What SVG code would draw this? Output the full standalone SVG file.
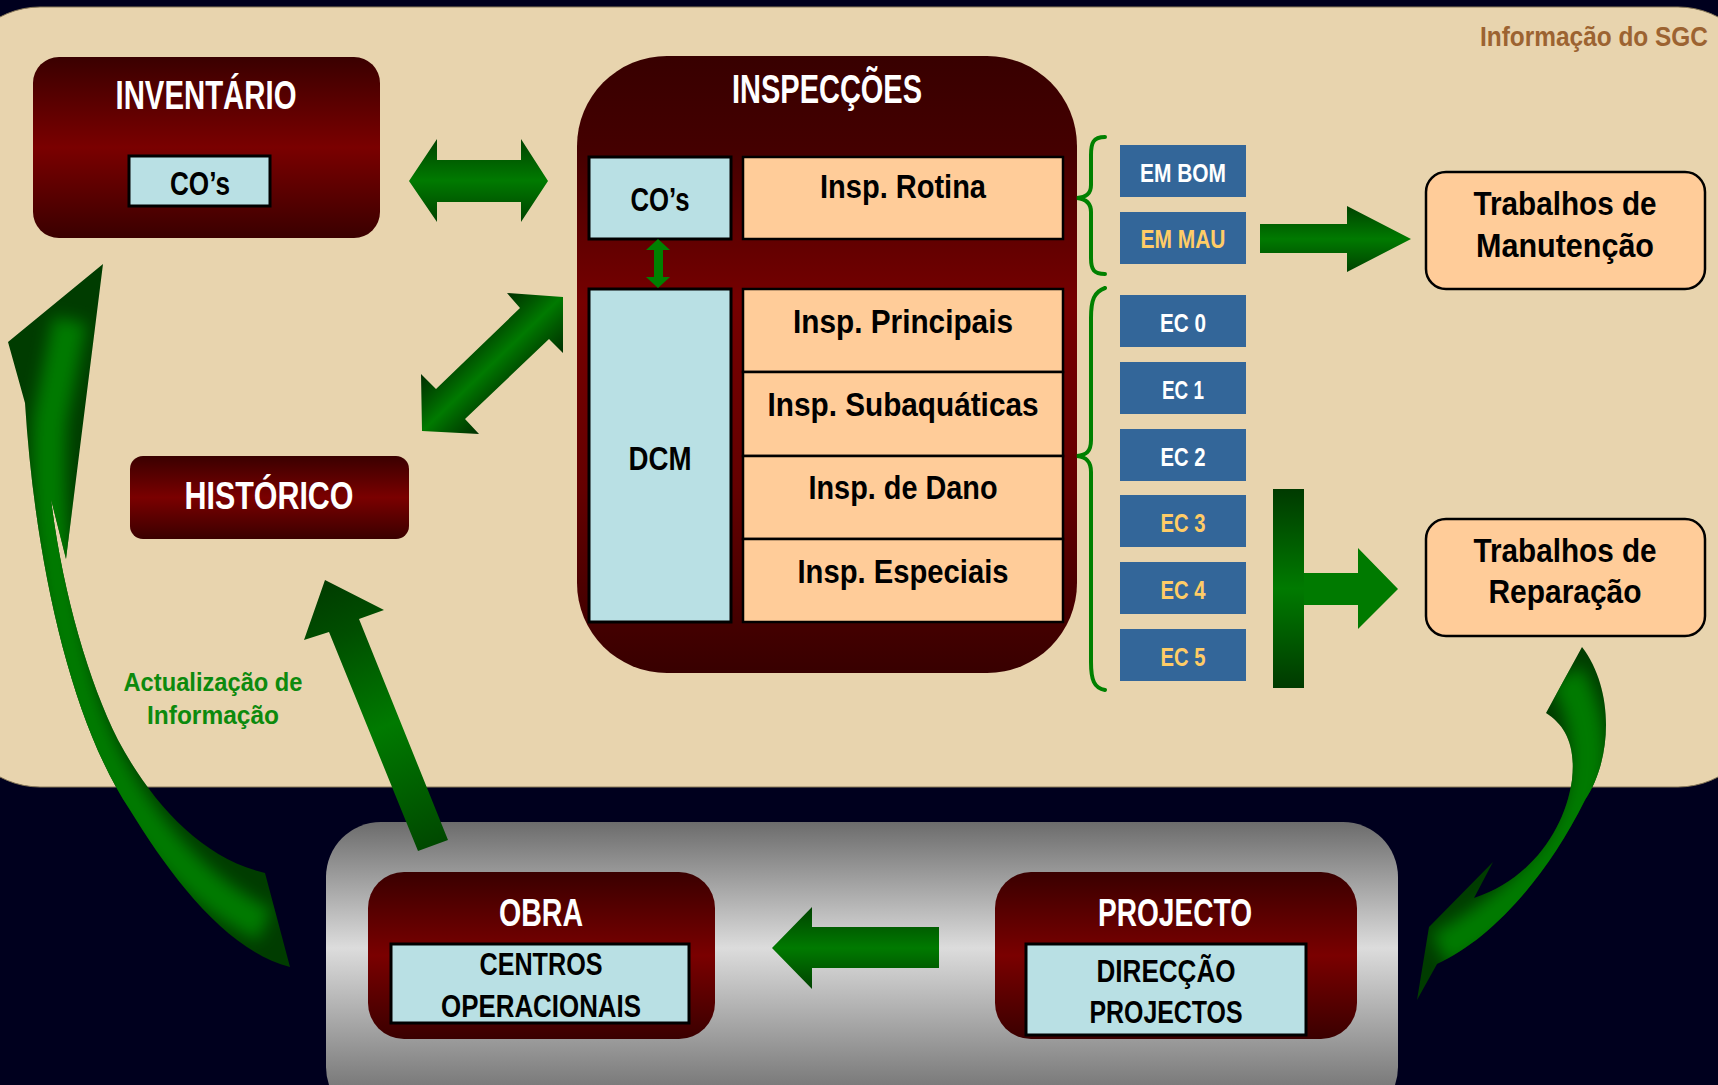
<svg xmlns="http://www.w3.org/2000/svg" width="1718" height="1085" viewBox="0 0 1718 1085">
<style>
.t{font-family:"Liberation Sans Narrow","Liberation Sans",Arial,sans-serif;font-weight:bold;text-anchor:middle}
.w{fill:#ffffff}
.k{fill:#000000}
.y{fill:#ffcc66}
.lb{fill:#b9e0e4;stroke:#000;stroke-width:3}
.pc{fill:#ffcc99;stroke:#000;stroke-width:2.5}
.bb{fill:#336699}
.br{fill:none;stroke:#008000;stroke-width:4;stroke-linecap:round}
</style>
<defs>
<linearGradient id="gRed" x1="0" y1="0" x2="0" y2="1">
<stop offset="0" stop-color="#3a0000"/><stop offset="0.5" stop-color="#7a0000"/><stop offset="1" stop-color="#3a0000"/>
</linearGradient>
<linearGradient id="gRedBig" x1="0" y1="0" x2="0" y2="1">
<stop offset="0" stop-color="#380000"/><stop offset="0.15" stop-color="#440000"/><stop offset="0.4" stop-color="#760000"/><stop offset="0.7" stop-color="#640000"/><stop offset="1" stop-color="#380000"/>
</linearGradient>
<linearGradient id="gGray" x1="0" y1="0" x2="0" y2="1">
<stop offset="0" stop-color="#6c6c6c"/><stop offset="0.42" stop-color="#dcdcdc"/><stop offset="0.88" stop-color="#7a7a7a"/><stop offset="1" stop-color="#6c6c6c"/>
</linearGradient>
<linearGradient id="gGreenV" x1="0" y1="0" x2="0" y2="1">
<stop offset="0" stop-color="#004200"/><stop offset="0.5" stop-color="#007a00"/><stop offset="1" stop-color="#004200"/>
</linearGradient>
<linearGradient id="gTBar" x1="0" y1="0" x2="0" y2="1">
<stop offset="0" stop-color="#003a00"/><stop offset="0.5" stop-color="#007a00"/><stop offset="1" stop-color="#003a00"/>
</linearGradient>
<linearGradient id="gDiag" gradientUnits="userSpaceOnUse" x1="464" y1="335" x2="520" y2="393">
<stop offset="0" stop-color="#003000"/><stop offset="0.3" stop-color="#005a00"/><stop offset="0.5" stop-color="#007a00"/><stop offset="0.7" stop-color="#005a00"/><stop offset="1" stop-color="#003000"/>
</linearGradient>
<linearGradient id="gUp" gradientUnits="userSpaceOnUse" x1="325" y1="580" x2="433" y2="846">
<stop offset="0" stop-color="#003c00"/><stop offset="0.2" stop-color="#004e00"/><stop offset="0.55" stop-color="#007a00"/><stop offset="1" stop-color="#004800"/>
</linearGradient>
<filter id="blur" x="-50%" y="-50%" width="200%" height="200%"><feGaussianBlur stdDeviation="8"/></filter>
<clipPath id="cpL"><path d="M290,967 L265,873 C200,858 150,800 118,740 C88,680 62,590 51,499 L66,559 L103,264 L8,342 L25,403 C35,560 70,720 130,810 C170,875 225,950 290,967 Z"/></clipPath>
<clipPath id="cpR"><path d="M1582,647 C1615,690 1612,760 1585,800 C1545,880 1490,940 1437,964 L1417,1000 L1429,927 L1493,862 L1474,898 C1530,880 1565,830 1572,780 C1576,745 1565,725 1546,713 Z"/></clipPath>
</defs>

<rect x="0" y="0" width="1718" height="1085" fill="#00001e"/>

<g id="sgc-panel">
<rect x="-45" y="7" width="1808" height="780" rx="85" fill="#e8d4ae" stroke="#8a7a5a" stroke-width="1"/>
<text class="t" x="1594" y="46" font-size="27" fill="#9c6331" textLength="228" lengthAdjust="spacingAndGlyphs">Informação do SGC</text>
</g>

<g id="bottom-panel">
<rect x="326" y="822" width="1072" height="300" rx="55" fill="url(#gGray)"/>
</g>

<g id="inventario">
<rect x="33" y="57" width="347" height="181" rx="26" fill="url(#gRed)"/>
<text class="t w" x="206" y="109" font-size="40" textLength="181" lengthAdjust="spacingAndGlyphs">INVENTÁRIO</text>
<rect class="lb" x="129" y="156" width="141" height="50"/>
<text class="t k" x="200" y="195" font-size="34" textLength="60" lengthAdjust="spacingAndGlyphs">CO’s</text>
</g>

<g id="inspeccoes">
<rect x="577" y="56" width="500" height="617" rx="90" fill="url(#gRedBig)"/>
<text class="t w" x="827" y="103" font-size="40" textLength="190" lengthAdjust="spacingAndGlyphs">INSPECÇÕES</text>
<g id="cos">
<rect class="lb" x="589" y="157" width="142" height="82"/>
<text class="t k" x="660" y="211" font-size="34" textLength="59" lengthAdjust="spacingAndGlyphs">CO’s</text>
</g>
<g id="insp-rotina">
<rect class="pc" x="743" y="157" width="320" height="82"/>
<text class="t k" x="903" y="198" font-size="34" textLength="166" lengthAdjust="spacingAndGlyphs">Insp. Rotina</text>
</g>
<g id="dcm">
<rect class="lb" x="589" y="289" width="142" height="333"/>
<text class="t k" x="660" y="470" font-size="34" textLength="63" lengthAdjust="spacingAndGlyphs">DCM</text>
</g>
<g id="insp-principais">
<rect class="pc" x="743" y="289" width="320" height="83"/>
<text class="t k" x="903" y="333" font-size="34" textLength="220" lengthAdjust="spacingAndGlyphs">Insp. Principais</text>
</g>
<g id="insp-subaquaticas">
<rect class="pc" x="743" y="372" width="320" height="84"/>
<text class="t k" x="903" y="416" font-size="34" textLength="271" lengthAdjust="spacingAndGlyphs">Insp. Subaquáticas</text>
</g>
<g id="insp-dano">
<rect class="pc" x="743" y="456" width="320" height="83"/>
<text class="t k" x="903" y="499" font-size="34" textLength="189" lengthAdjust="spacingAndGlyphs">Insp. de Dano</text>
</g>
<g id="insp-especiais">
<rect class="pc" x="743" y="539" width="320" height="83"/>
<text class="t k" x="903" y="583" font-size="34" textLength="211" lengthAdjust="spacingAndGlyphs">Insp. Especiais</text>
</g>
</g>

<g id="historico">
<rect x="130" y="456" width="279" height="83" rx="13" fill="url(#gRed)"/>
<text class="t w" x="269" y="509" font-size="38" textLength="169" lengthAdjust="spacingAndGlyphs">HISTÓRICO</text>
</g>

<g id="label-actualizacao">
<text class="t" x="213" y="691" font-size="26" fill="#0d8a0d" textLength="179" lengthAdjust="spacingAndGlyphs">Actualização de</text>
<text class="t" x="213" y="724" font-size="26" fill="#0d8a0d" textLength="132" lengthAdjust="spacingAndGlyphs">Informação</text>
</g>

<g id="em-bom"><rect class="bb" x="1120" y="145" width="126" height="52"/><text class="t w" x="1183" y="182" font-size="26" textLength="86" lengthAdjust="spacingAndGlyphs">EM BOM</text></g>
<g id="em-mau"><rect class="bb" x="1120" y="212" width="126" height="52"/><text class="t y" x="1183" y="248" font-size="26" textLength="85" lengthAdjust="spacingAndGlyphs">EM MAU</text></g>
<g id="ec0"><rect class="bb" x="1120" y="295" width="126" height="52"/><text class="t w" x="1183" y="332" font-size="25" textLength="46" lengthAdjust="spacingAndGlyphs">EC 0</text></g>
<g id="ec1"><rect class="bb" x="1120" y="362" width="126" height="52"/><text class="t w" x="1183" y="399" font-size="25" textLength="42" lengthAdjust="spacingAndGlyphs">EC 1</text></g>
<g id="ec2"><rect class="bb" x="1120" y="429" width="126" height="52"/><text class="t w" x="1183" y="466" font-size="25" textLength="45" lengthAdjust="spacingAndGlyphs">EC 2</text></g>
<g id="ec3"><rect class="bb" x="1120" y="495" width="126" height="52"/><text class="t y" x="1183" y="532" font-size="25" textLength="45" lengthAdjust="spacingAndGlyphs">EC 3</text></g>
<g id="ec4"><rect class="bb" x="1120" y="562" width="126" height="52"/><text class="t y" x="1183" y="599" font-size="25" textLength="45" lengthAdjust="spacingAndGlyphs">EC 4</text></g>
<g id="ec5"><rect class="bb" x="1120" y="629" width="126" height="52"/><text class="t y" x="1183" y="666" font-size="25" textLength="45" lengthAdjust="spacingAndGlyphs">EC 5</text></g>

<g id="manutencao">
<rect class="pc" x="1426" y="172" width="279" height="117" rx="20"/>
<text class="t k" x="1565" y="215" font-size="33" textLength="183" lengthAdjust="spacingAndGlyphs">Trabalhos de</text>
<text class="t k" x="1565" y="257" font-size="33" textLength="178" lengthAdjust="spacingAndGlyphs">Manutenção</text>
</g>

<g id="reparacao">
<rect class="pc" x="1426" y="519" width="279" height="117" rx="20"/>
<text class="t k" x="1565" y="562" font-size="33" textLength="183" lengthAdjust="spacingAndGlyphs">Trabalhos de</text>
<text class="t k" x="1565" y="603" font-size="33" textLength="153" lengthAdjust="spacingAndGlyphs">Reparação</text>
</g>

<g id="obra">
<rect x="368" y="872" width="347" height="167" rx="36" fill="url(#gRed)"/>
<text class="t w" x="541" y="926" font-size="38" textLength="84" lengthAdjust="spacingAndGlyphs">OBRA</text>
<rect class="lb" x="391" y="944" width="298" height="79"/>
<text class="t k" x="541" y="975" font-size="31" textLength="123" lengthAdjust="spacingAndGlyphs">CENTROS</text>
<text class="t k" x="541" y="1017" font-size="31" textLength="200" lengthAdjust="spacingAndGlyphs">OPERACIONAIS</text>
</g>

<g id="projecto">
<rect x="995" y="872" width="362" height="167" rx="36" fill="url(#gRed)"/>
<text class="t w" x="1175" y="926" font-size="38" textLength="154" lengthAdjust="spacingAndGlyphs">PROJECTO</text>
<rect class="lb" x="1026" y="944" width="280" height="91"/>
<text class="t k" x="1166" y="982" font-size="31" textLength="139" lengthAdjust="spacingAndGlyphs">DIRECÇÃO</text>
<text class="t k" x="1166" y="1023" font-size="31" textLength="153" lengthAdjust="spacingAndGlyphs">PROJECTOS</text>
</g>

<g id="connectors">
<polygon id="arr-inv-insp" points="409,181 437,139 437,160 521,160 521,139 548,181 521,222 521,202 437,202 437,222" fill="url(#gGreenV)"/>
<polygon id="arr-cos-dcm" points="658,239 670,250 663,250 663,277 670,277 658,288 646,277 654,277 654,250 646,250" fill="#008000"/>
<polygon id="arr-hist-insp" points="507,293 563,297 563,353 549,339 465,419 479,434 422,431 421,374 436,389 520,308" fill="url(#gDiag)"/>
<path class="br" d="M1105,137 C1093,137 1091,143 1091,155 L1091,185 C1091,194 1086,197 1077,198 C1086,199 1091,203 1091,212 L1091,258 C1091,270 1094,274 1105,274"/>
<path class="br" d="M1105,288 C1094,292 1091,300 1091,318 L1091,440 C1091,452 1086,455 1077,456 C1086,457 1091,461 1091,472 L1091,662 C1091,680 1094,688 1105,690"/>
<polygon id="arr-manut" points="1260,224 1347,224 1347,206 1411,239 1347,272 1347,253 1260,253" fill="url(#gGreenV)"/>
<rect id="arr-rep-bar" x="1273" y="489" width="31" height="199" fill="url(#gTBar)"/>
<polygon id="arr-rep" points="1304,573 1358,573 1358,548 1398,589 1358,629 1358,605 1304,605" fill="#007a00"/>
<polygon id="arr-proj-obra" points="939,927 812,927 812,907 772,948 812,989 812,968 939,968" fill="url(#gGreenV)"/>
<polygon id="arr-obra-hist" points="325,580 384,610 359,619 448,840 418,851 329,632 304,640" fill="url(#gUp)"/>
<g id="arr-obra-inv" clip-path="url(#cpL)">
<rect x="0" y="250" width="300" height="730" fill="#003c00"/>
<path d="M265,925 C180,885 110,790 80,690 C55,600 45,500 50,420 L70,320" fill="none" stroke="#007a00" stroke-width="34" filter="url(#blur)"/>
</g>
<g id="arr-rep-proj" clip-path="url(#cpR)">
<rect x="1400" y="630" width="230" height="380" fill="#003c00"/>
<path d="M1566,675 C1600,735 1592,800 1560,848 C1530,893 1485,925 1440,950" fill="none" stroke="#007a00" stroke-width="36" filter="url(#blur)"/>
</g>
</g>
</svg>
